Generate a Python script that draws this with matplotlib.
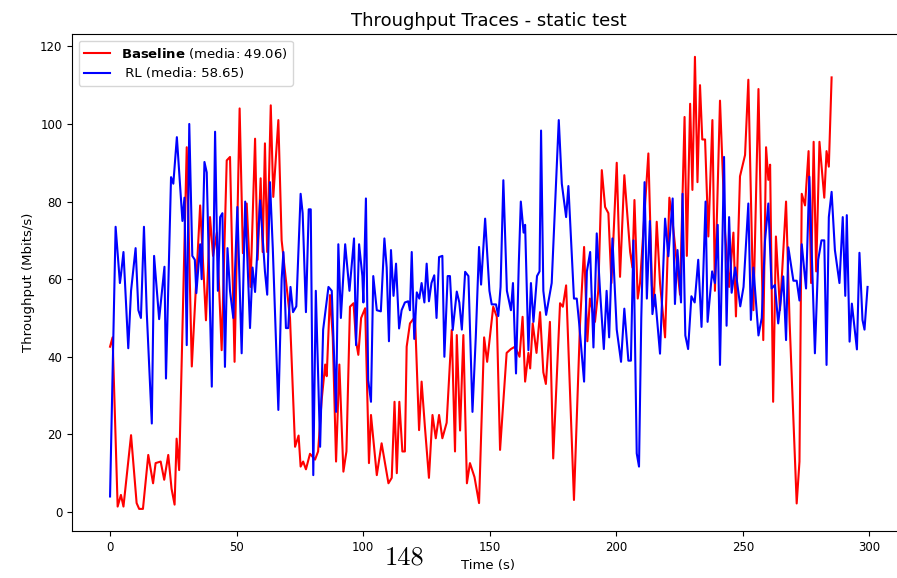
import matplotlib.pyplot as plt

# Baseline trace (red), vertices
base_t = [0, 1, 3, 4.3, 5.3, 8.3, 10.5, 11.5, 13, 15.1, 17, 18, 20, 21.4, 23, 24.3, 25.5, 26.3, 27.3,
          30.3, 32.3, 35.6, 37.9, 39.5, 40.7, 42.2, 44.1, 46.1, 47.4, 49.2, 51.2, 52.5, 54, 55.5, 57.3,
          58.3, 59.5, 60.3, 61.2, 62.1, 63.5, 64.5, 66.5, 67.8, 69.8, 71.1, 73.1, 74.5, 75.3, 76.3, 77.4,
          79, 81, 82.2, 83.6, 85, 85.6, 86.9, 88, 89.3, 90.6, 92.2, 93.4, 94.8, 96.2, 97.2, 98.1, 99.2,
          100.8, 102.3, 103.1, 105.4, 107.3, 110, 111.3, 112.4, 113.3, 114.3, 115.5, 116.5, 117.2, 118.5,
          120.5, 122.1, 123.1, 124.4, 126, 127.4, 128.7, 130, 131.3, 133, 135, 136.3, 137, 138.3, 139.6,
          141, 142.2, 144, 145.8, 147.8, 149, 151.4, 152.8, 154.1, 156.7, 158.4, 160, 161.8, 163, 164,
          165.3, 166, 167, 168.5, 169.9, 171.2, 172.2, 173.8, 175.1, 177.8, 178.9, 180.2, 183.3, 185.7,
          187.3, 188.6, 189.6, 191.6, 192.9, 194.3, 195.6, 196.9, 198.1, 200.2, 201.5, 203.2, 205.5,
          206.4, 207.2, 208.5, 209.4, 212.7, 214.1, 214.8, 216, 217.3, 219.3, 221, 221.9, 223.5, 225.2,
          227, 227.9, 229.2, 230.1, 231.1, 232.1, 233.1, 234, 235.1, 236.4, 238, 239, 241, 243, 244.6,
          246.3, 247.3, 248.9, 250.9, 252.2, 254.2, 256.2, 258.1, 259.2, 260.1, 260.8, 262, 263.1, 264.7,
          267.1, 268.5, 271.3, 272.4, 273.3, 274.6, 276, 277, 278, 279, 280.3, 282.2, 283.1, 284, 285.1]
base_v = [42.6, 45, 1.4, 4.4, 1.4, 19.8, 2.3, 0.8, 0.8, 14.7, 7.4, 12.6, 13, 8.3, 14.7, 6, 1.9, 18.9, 10.8,
          94, 37.5, 79, 49.4, 76, 66, 72, 41.7, 90.6, 91.5, 38.7, 104, 66.7, 79.5, 58, 96.2,
          65, 86, 67, 95, 67, 104.8, 81.2, 101, 70, 58, 50, 16.8, 19.7, 11.7, 13, 11,
          15, 13.5, 15.6, 28.8, 38, 35, 55.9, 45, 13, 38, 10.4, 15.6, 52.9, 53.8, 44, 40.5, 50,
          52.5, 12.6, 25, 9.5, 17.7, 7.4, 8.8, 28.4, 10, 28.4, 15.6, 15.6, 42.6, 48.6,
          50.3, 21.1, 33.6, 22, 8.8, 25, 19, 25, 19, 23, 46.9, 15.6, 45.6, 21, 45.6,
          7.4, 12.6, 9, 2.3, 45, 38.7, 52.9, 50.3, 16, 41, 42, 42.6, 40, 50.3, 33.6,
          41, 37, 48.6, 41, 51.5, 36, 33, 49, 13.8, 53.8, 52.9, 58.4, 3.1, 48.6,
          68.3, 44, 55, 49, 57, 88.1, 78.6, 77, 59, 90, 60.6, 86.8, 67,
          63, 80.4, 55, 59, 92.4, 58.4, 53, 74.8, 59, 45, 81, 77, 67, 56,
          101.8, 66, 105.2, 83, 117.3, 85, 110, 96, 96, 71, 101, 57, 106, 72, 58,
          72, 50.4, 86.5, 92, 111.4, 52, 109, 44.3, 94, 85.6, 89.5, 28.4, 71, 52,
          80, 49, 2.2, 13, 82, 79, 93, 59, 95.4, 62, 95.4, 81, 93, 89, 112]

# RL trace (blue)
rl_t = [0, 2.2, 3.9, 4.3, 5.3, 7.2, 8.3, 10.1, 11.2, 12.2, 13.4, 14.5, 16.5, 17.4, 19.4, 21.5, 22.1,
        24.1, 25, 26.4, 28.6, 29.4, 30.3, 31.3, 32.5, 33.5, 34.1, 35.6, 36.2, 37.3, 38.2, 40.2, 41.5,
        42.6, 43.5, 44.4, 45.4, 46.4, 47.4, 48.7, 50.3, 52, 53.4, 55.3, 56.3, 57.3, 59.3, 61.2, 62.1,
        63.2, 64.3, 66.5, 67.8, 68.5, 69.5, 70.4, 71.3, 72.3, 73.6, 75.3, 76.1, 77.4, 78.5, 79.3, 80.3,
        81.3, 83, 84.2, 86.3, 87.6, 89.3, 90.2, 91.2, 92.9, 94.6, 96.4, 97.2, 98.4, 99.7, 100.1, 101.1,
        102, 103.1, 104, 105.4, 107, 108.4, 109.3, 110.2, 111, 112, 113, 114.2, 115.2, 116.5, 117.8,
        118.5, 119.2, 120.2, 121.2, 122.2, 123.1, 124.2, 125.1, 126, 127, 128.1, 129, 130, 131.3, 132.1,
        133.4, 134.3, 135.4, 137, 138, 139, 140.3, 141.6, 143.2, 144.5, 145.8, 146.6, 148.2, 149.9,
        150.8, 152.5, 153.4, 154.3, 155.4, 156.8, 158.4, 159.2, 160.4, 161.5, 162.3, 163.4, 164, 165.3,
        166.3, 167.3, 168.7, 169.7, 170.3, 171.2, 172.3, 174.5, 177.3, 178.5, 180.2, 181.1, 183.3,
        184.4, 185.3, 187.3, 188.4, 189.7, 191, 192.3, 193.6, 195.1, 196.2, 197.2, 198.5, 200.2, 201.9,
        203.2, 204.8, 205.8, 206.8, 208.1, 209, 209.9, 211.2, 212.1, 213.3, 214.3, 215.3, 217.3, 219.3,
        220.6, 222.3, 223.2, 224.2, 225.6, 226.2, 227.3, 228.4, 229.7, 231, 232.4, 233.7, 235.3, 236.1,
        237.9, 239, 240.1, 241, 242.6, 243.6, 244.6, 245.6, 247, 249, 250.3, 252.2, 253.2, 254.2, 256.2,
        257.5, 258.8, 260.1, 261.4, 262.7, 264, 266, 267.1, 268, 270, 271.3, 272.4, 273.3, 275, 276.3,
        278.5, 279.8, 281.1, 282.2, 283.1, 284, 285.1, 286.4, 288.2, 289.5, 290.5, 291.1, 292.2, 293.1,
        295.1, 296.1, 297.3, 298.1, 299.3]
rl_v = [4, 73.5, 59, 61, 67, 42.2, 57, 68, 52, 50, 73.5, 51.5, 22.8, 66, 49.7, 63.2, 34.4,
        86.3, 84.6, 96.6, 75, 81, 43, 100, 66, 65, 56.4, 69, 60, 90.2, 87.5, 32.3, 98,
        57, 76, 77, 37.4, 68, 57, 50, 78.6, 40.9, 80, 47.4, 63, 56.7, 80.3, 62, 56,
        85, 68, 26.3, 60, 67, 47.4, 47.4, 58, 51.5, 53, 82, 77, 51.5, 78, 78, 9.5,
        57, 16.8, 47, 58, 57, 25.8, 69, 50, 69, 57, 70.5, 43, 69, 60.8, 54, 80.8,
        34, 28.4, 60.8, 52, 51.7, 70.5, 63, 44, 67.5, 55.7, 64, 47.3, 52, 54, 54.3,
        52, 67, 44.6, 56.6, 55, 59, 54, 64, 54.3, 59, 61, 50, 65.7, 66, 40,
        60.8, 60.8, 46.9, 56.8, 54, 47, 61.9, 60.8, 25.8, 45, 68.3, 58.6, 75.6, 57,
        53.5, 53.5, 50.5, 58, 85.5, 57, 52, 59, 35.7, 64, 80, 72, 74, 41.7,
        59, 49, 60.8, 62, 98.3, 57, 50.8, 59, 101, 84.6, 76, 84, 55,
        55, 49, 33.6, 62, 67, 42.4, 71.8, 57, 42, 57, 45, 70.5, 47, 38.7,
        52.4, 39, 39, 70, 15.1, 11.7, 50, 85, 55, 75, 51, 56, 40.8, 75.6,
        65.9, 80.8, 53.6, 67.5, 54, 82, 45.5, 42, 55.6, 54, 65, 47.7, 80, 49,
        62, 59, 74, 37.9, 91.5, 48, 76, 56.5, 63, 53, 58, 79.5, 49.5, 63, 45.5,
        50, 70, 79.5, 57.6, 58.5, 48.6, 60.7, 44.3, 68.2, 59.6, 59.6, 54.5, 69, 57.6, 86.4,
        40.9, 65, 70, 70, 37.9, 76, 82.5, 67.5, 59, 76, 55.7, 76.5, 43.9, 53.7,
        41.9, 66.8, 49.5, 47, 58]

base_label = r'$\bf{Baseline}$ (media: 49.06)'
rl_label = ' RL (media: 58.65)'

fig = plt.figure(figsize=(8.97, 5.78), dpi=100)
ax = fig.add_axes([0.0805, 0.0813, 0.928, 0.86])

ax.plot(base_t, base_v, color='red', linewidth=1.5, label=base_label)
ax.plot(rl_t, rl_v, color='blue', linewidth=1.5, label=rl_label)

ax.set_xlim(-14.95, 313.95)
ax.set_ylim(-4.9, 123.2)
ax.set_xticks([0, 50, 100, 150, 200, 250, 300])
ax.set_yticks([0, 20, 40, 60, 80, 100, 120])
ax.tick_params(labelsize=8.5)
ax.set_title('Throughput Traces - static test', fontsize=13)
ax.set_xlabel('Time (s)', fontsize=9.5)
ax.set_ylabel('Throughput (Mbits/s)', fontsize=9.5)
ax.legend(loc='upper left', fontsize=9.5)

# page number from the scanned document
fig.text(0.4515, 0.035, '148', family='cmr10', fontsize=19, ha='center', va='center')

fig.savefig('out.png', dpi=100)
